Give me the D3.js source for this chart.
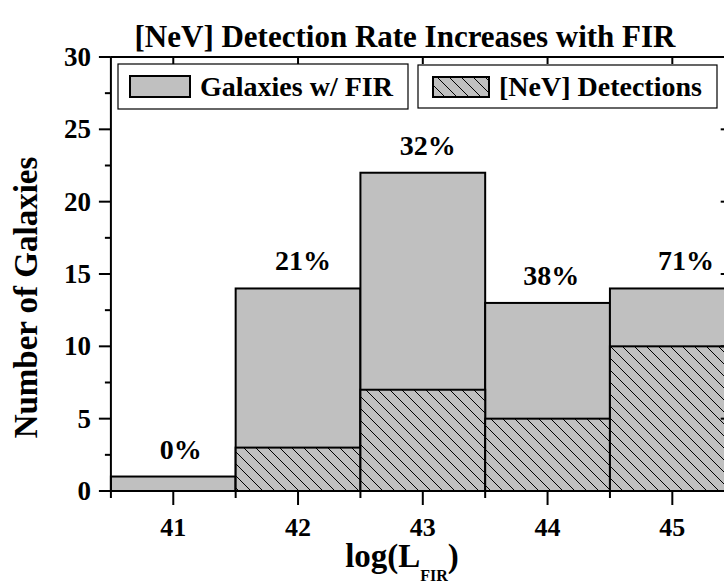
<!DOCTYPE html>
<html>
<head>
<meta charset="utf-8">
<script src="https://cdn.jsdelivr.net/npm/d3@7"></script>
<style>
  html, body { margin: 0; padding: 0; background: #fff; }
  svg text { font-family: "Liberation Serif", "Times New Roman", Times, serif; font-weight: 700; }
</style>
</head>
<body>
<svg id="chart" width="724" height="583"></svg>
<script>
// Histogram bins of log(L_FIR)
const binCenters = [41, 42, 43, 44, 45];
const firCounts = [1, 14, 22, 13, 14];   // galaxies with FIR measurements
const nevCounts = [0, 3, 7, 5, 10];      // of those, [NeV] detections
const rateLabelX = [41.06, 42.04, 43.04, 44.03, 45.11];
const xTicks = [41, 42, 43, 44, 45];
const xMinorTicks = [40.5, 41.5, 42.5, 43.5, 44.5, 45.5];
const yTicks = [0, 5, 10, 15, 20, 25, 30];
const yMinorTicks = [2.5, 7.5, 12.5, 17.5, 22.5, 27.5];

const svg = d3.select("#chart");
const x = d3.scaleLinear().domain([40.5, 45.5]).range([110.9, 734.7]);
const y = d3.scaleLinear().domain([0, 30]).range([491, 57]);
const binW = 1;
const gray = "#c0c0c0";

// diagonal hatch for detections
const defs = svg.append("defs");
const pat = defs.append("pattern")
  .attr("id", "hatch").attr("patternUnits", "userSpaceOnUse")
  .attr("width", 12).attr("height", 12);
pat.append("rect").attr("width", 12).attr("height", 12).attr("fill", gray);
pat.append("path").attr("d", "M-3,-3 L15,15 M-3,9 L3,15 M9,-3 L15,3")
  .attr("stroke", "#000").attr("stroke-width", 1);

// title
svg.append("text").attr("x", 405).attr("y", 47).attr("text-anchor", "middle")
  .attr("font-size", 31).text("[NeV] Detection Rate Increases with FIR");

// bars
const plot = svg.append("g");
plot.selectAll("rect.fir").data(binCenters).join("rect").attr("class", "fir")
  .attr("x", (d) => x(d - binW / 2)).attr("width", (d) => x(d + binW / 2) - x(d - binW / 2))
  .attr("y", (d, i) => y(firCounts[i])).attr("height", (d, i) => y(0) - y(firCounts[i]))
  .attr("fill", gray).attr("stroke", "#000").attr("stroke-width", 2);
plot.selectAll("rect.nev").data(binCenters.filter((d, i) => nevCounts[i] > 0)).join("rect").attr("class", "nev")
  .attr("x", (d) => x(d - binW / 2)).attr("width", (d) => x(d + binW / 2) - x(d - binW / 2))
  .attr("y", (d) => y(nevCounts[binCenters.indexOf(d)]))
  .attr("height", (d) => y(0) - y(nevCounts[binCenters.indexOf(d)]))
  .attr("fill", "url(#hatch)").attr("stroke", "#000").attr("stroke-width", 2);

// detection-rate labels
plot.selectAll("text.rate").data(binCenters).join("text").attr("class", "rate")
  .attr("x", (d, i) => x(rateLabelX[i])).attr("y", (d, i) => y(firCounts[i]) - 18)
  .attr("text-anchor", "middle").attr("font-size", 28)
  .text((d, i) => Math.round(nevCounts[i] / firCounts[i] * 100) + "%");

// frame
const axes = svg.append("g").attr("stroke", "#000").attr("stroke-width", 2);
axes.append("line").attr("x1", x(40.5)).attr("x2", x(45.5)).attr("y1", y(0)).attr("y2", y(0));
axes.append("line").attr("x1", x(40.5)).attr("x2", x(45.5)).attr("y1", y(30)).attr("y2", y(30));
axes.append("line").attr("x1", x(40.5)).attr("x2", x(40.5)).attr("y1", y(0)).attr("y2", y(30));
axes.append("line").attr("x1", x(45.5)).attr("x2", x(45.5)).attr("y1", y(0)).attr("y2", y(30));

// bottom ticks
axes.selectAll("line.xt").data(xTicks).join("line").attr("class", "xt")
  .attr("x1", (d) => x(d)).attr("x2", (d) => x(d)).attr("y1", y(0)).attr("y2", y(0) + 14);
axes.selectAll("line.xm").data(xMinorTicks).join("line").attr("class", "xm")
  .attr("x1", (d) => x(d)).attr("x2", (d) => x(d)).attr("y1", y(0)).attr("y2", y(0) + 7);
// top ticks
axes.selectAll("line.xtt").data(xTicks).join("line").attr("class", "xtt")
  .attr("x1", (d) => x(d)).attr("x2", (d) => x(d)).attr("y1", y(30)).attr("y2", y(30) + 7);
// left ticks
axes.selectAll("line.yt").data(yTicks).join("line").attr("class", "yt")
  .attr("x1", x(40.5) - 12).attr("x2", x(40.5)).attr("y1", (d) => y(d)).attr("y2", (d) => y(d));
axes.selectAll("line.ym").data(yMinorTicks).join("line").attr("class", "ym")
  .attr("x1", x(40.5) - 6).attr("x2", x(40.5)).attr("y1", (d) => y(d)).attr("y2", (d) => y(d));
// right ticks
axes.selectAll("line.ytr").data(yTicks).join("line").attr("class", "ytr")
  .attr("x1", x(45.5) - 14).attr("x2", x(45.5)).attr("y1", (d) => y(d)).attr("y2", (d) => y(d));

// tick labels
svg.selectAll("text.xl").data(xTicks).join("text").attr("class", "xl")
  .attr("x", (d) => x(d)).attr("y", 536).attr("text-anchor", "middle")
  .attr("font-size", 26).text((d) => d);
svg.selectAll("text.yl").data(yTicks).join("text").attr("class", "yl")
  .attr("x", 91).attr("y", (d) => y(d) + 9).attr("text-anchor", "end")
  .attr("font-size", 27).text((d) => d);

// axis titles
svg.append("text").attr("transform", "translate(37,297.5) rotate(-90)")
  .attr("text-anchor", "middle").attr("font-size", 33).text("Number of Galaxies");
const xl = svg.append("text").attr("x", 402).attr("y", 567).attr("text-anchor", "middle").attr("font-size", 33);
xl.append("tspan").text("log(L");
xl.append("tspan").attr("font-size", 16).attr("dy", 14).text("FIR");
xl.append("tspan").attr("dy", -14).text(")");

// legend
const legendItems = [
  { label: "Galaxies w/ FIR", fill: gray, box: [118, 64, 290, 45], sw: [130, 76, 60, 21], tx: 200 },
  { label: "[NeV] Detections", fill: "url(#hatch)", box: [418, 65, 299, 43], sw: [433, 77, 56, 20], tx: 499 }
];
const lg = svg.selectAll("g.leg").data(legendItems).join("g").attr("class", "leg");
lg.append("rect").attr("x", (d) => d.box[0]).attr("y", (d) => d.box[1])
  .attr("width", (d) => d.box[2]).attr("height", (d) => d.box[3])
  .attr("fill", "#fff").attr("stroke", "#000").attr("stroke-width", 1.2);
lg.append("rect").attr("x", (d) => d.sw[0]).attr("y", (d) => d.sw[1])
  .attr("width", (d) => d.sw[2]).attr("height", (d) => d.sw[3])
  .attr("fill", (d) => d.fill).attr("stroke", "#000").attr("stroke-width", 2);
lg.append("text").attr("x", (d) => d.tx).attr("y", 96).attr("font-size", 28).text((d) => d.label);
</script>
</body>
</html>
